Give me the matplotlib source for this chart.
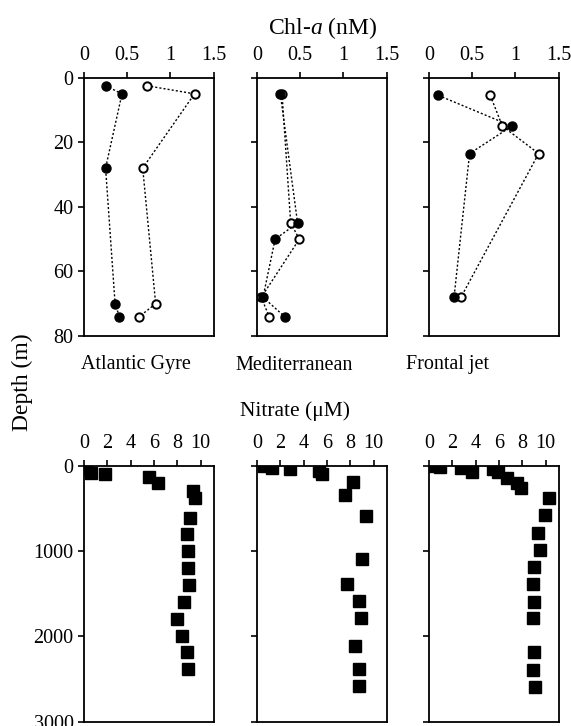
import matplotlib
matplotlib.use('Agg')
import matplotlib.pyplot as plt

plt.rcParams['font.family'] = ['Liberation Serif', 'DejaVu Serif']
plt.rcParams['mathtext.fontset'] = 'custom'
plt.rcParams['mathtext.rm'] = 'Liberation Serif'
plt.rcParams['mathtext.it'] = 'Liberation Serif:italic'

# Chl-a profiles (depth m, nM) - filled and open circles
stations = ['Atlantic Gyre', 'Mediterranean', 'Frontal jet']

atl_chl_depth = [2.5, 5, 28, 70, 74]
atl_chl_filled = [0.25, 0.44, 0.25, 0.36, 0.41]
atl_chl_open = [0.73, 1.28, 0.68, 0.83, 0.64]

med_chl_depth = [5, 45, 50, 68, 74]
med_chl_filled = [0.27, 0.47, 0.21, 0.07, 0.32]
med_chl_open = [0.29, 0.39, 0.49, 0.05, 0.14]

fro_chl_depth = [5.5, 15, 23.5, 68]
fro_chl_filled = [0.11, 0.96, 0.47, 0.29]
fro_chl_open = [0.71, 0.85, 1.27, 0.37]

# Nitrate profiles (depth m, uM)
atl_no3_depth = [5, 30, 85, 90, 125, 200, 290, 380, 610, 800, 1000, 1200,
                 1395, 1600, 1800, 1990, 2185, 2380]
atl_no3 = [0.1, 0.2, 0.6, 1.8, 5.6, 6.3, 9.3, 9.5, 9.1, 8.8, 8.9, 8.9,
           9.0, 8.6, 8.0, 8.4, 8.8, 8.9]

med_no3_depth = [0, 27, 35, 58, 97, 190, 345, 590, 1095, 1385, 1580, 1785,
                 2110, 2385, 2580]
med_no3 = [0.6, 1.3, 2.8, 5.3, 5.6, 8.2, 7.5, 9.3, 9.0, 7.7, 8.7, 8.9,
           8.4, 8.7, 8.7]

fro_no3_depth = [0, 10, 27, 73, 35, 73, 140, 200, 260, 380, 580, 785,
                 980, 1190, 1390, 1595, 1785, 2185, 2390, 2595]
fro_no3 = [0.5, 0.9, 2.7, 3.7, 5.5, 5.9, 6.7, 7.5, 7.9, 10.3, 9.9, 9.3,
           9.5, 9.0, 8.9, 9.0, 8.9, 9.0, 8.9, 9.1]

chl = [(atl_chl_depth, atl_chl_filled, atl_chl_open),
       (med_chl_depth, med_chl_filled, med_chl_open),
       (fro_chl_depth, fro_chl_filled, fro_chl_open)]
no3 = [(atl_no3_depth, atl_no3), (med_no3_depth, med_no3),
       (fro_no3_depth, fro_no3)]

W, H = 571, 726
fig = plt.figure(figsize=(W / 100, H / 100), dpi=100)

lefts = [84, 257, 429]
pw = 129.5
fs = 14.5


def style(ax, left):
    for s in ax.spines.values():
        s.set_linewidth(1.3)
    ax.xaxis.tick_top()
    ax.tick_params(direction='out', length=4.5, width=1.2, labelsize=fs, pad=3)
    ax.tick_params(axis='x', pad=5)
    if not left:
        ax.tick_params(axis='y', labelleft=False)


for i in range(3):
    ax = fig.add_axes([lefts[i] / W, (H - 336) / H, pw / W, 258.3 / H])
    d, f, o = chl[i]
    ax.plot(o, d, ls=(0, (1.5, 1.5)), lw=1.0, color='black', marker='o', ms=6,
            mfc='white', mec='black', mew=1.4)
    ax.plot(f, d, ls=(0, (1.5, 1.5)), lw=1.0, color='black', marker='o', ms=6.5,
            mfc='black', mec='black')
    ax.set_xlim(0, 1.5)
    ax.set_ylim(80, 0)
    ax.set_xticks([0, 0.5, 1, 1.5])
    ax.set_xticklabels(['0', '0.5', '1', '1.5'])
    ax.set_yticks([0, 20, 40, 60, 80])
    style(ax, i == 0)

    bx = fig.add_axes([lefts[i] / W, (H - 721.7) / H, pw / W, 255.7 / H])
    d, n = no3[i]
    bx.plot(n, d, ls='none', marker='s', ms=8.3, mfc='black', mec='black')
    bx.set_xlim(0, 11.1)
    bx.set_ylim(3000, 0)
    bx.set_xticks([0, 2, 4, 6, 8, 10])
    bx.set_yticks([0, 1000, 2000, 3000])
    style(bx, i == 0)

fig.text(323 / W, 1 - 28 / H, 'Chl-$a$ (nM)', ha='center', va='center', fontsize=17)
fig.text(295 / W, 1 - 411 / H, 'Nitrate (\u03bcM)', ha='center', va='center', fontsize=15.5)
for name, x in zip(stations, [136, 294, 447]):
    fig.text(x / W, 1 - 365 / H, name, ha='center', va='center', fontsize=fs)
fig.text(22 / W, 1 - 382 / H, 'Depth (m)', ha='center', va='center',
         rotation=90, fontsize=17)

fig.savefig('out.png', dpi=100)
